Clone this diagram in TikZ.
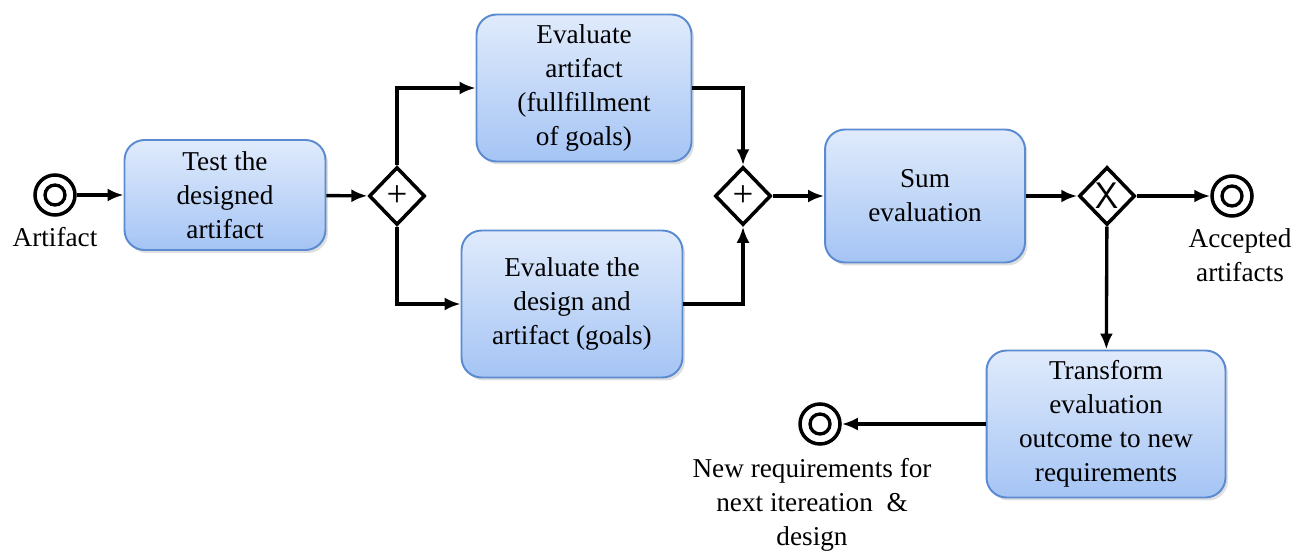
\documentclass[tikz,border=0pt]{standalone}
\usepackage{fontspec}
\setmainfont{LiberationSerif}[Extension=.ttf, UprightFont=*-Regular, BoldFont=*-Bold, ItalicFont=*-Italic]
\usetikzlibrary{arrows.meta,shapes.geometric,shadows}
\definecolor{boxline}{HTML}{5A8AD0}
\definecolor{boxtop}{HTML}{E0EBFC}
\definecolor{boxbot}{HTML}{A5C4F4}

\tikzset{
	task/.style={rounded corners=0.4cm, draw=boxline, line width=1.1pt,
		top color=boxtop, bottom color=boxbot, align=center, inner sep=2pt,
		font=\fontsize{15.5}{19.4}\selectfont,
		drop shadow={opacity=0.25, shadow xshift=0.05cm, shadow yshift=-0.06cm}},
	gate/.style={diamond, draw, line width=2pt, fill=white, aspect=1,
		minimum width=1.12cm, minimum height=1.16cm, inner sep=0pt,
		font=\fontsize{21}{21}\selectfont},
	event/.style={circle, draw, line width=2pt, fill=white, minimum size=0.8cm, inner sep=0pt,
		path picture={\draw[line width=1.9pt] (path picture bounding box.center) circle (0.2cm);}},
	flow/.style={-{Latex[length=0.32cm,width=0.26cm]}, line width=1.9pt},
	lbl/.style={align=center, font=\fontsize{15.5}{19.4}\selectfont}
}

\begin{document}
\begin{tikzpicture}[x=0.02cm,y=-0.02cm]
		\useasboundingbox (0,0) rectangle (1297,554);
		
		% Events
		\node[event] (start) at (55,195) {};
		\node[lbl] (startlbl) at (55,237) {Artifact};
		\node[event] (accepted) at (1232,196) {};
		\node[lbl] (acceptedlbl) at (1240,255) {Accepted\\artifacts};
		\node[event] (newreq) at (820,424) {};
		\node[lbl] (newreqlbl) at (812,505) {New requirements for\\next itereation \ \&\\design};
		
		% Tasks
		\node[task, minimum width=4.02cm, minimum height=2.2cm] (test) at (225,195) {Test the\\designed\\artifact};
		\node[task, minimum width=4.3cm, minimum height=2.94cm] (evalgoal) at (584,88) {Evaluate\\artifact\\(fullfillment\\of goals)};
		\node[task, minimum width=4.42cm, minimum height=2.94cm] (evaldesign) at (572,304) {Evaluate the\\design and\\artifact (goals)};
		\node[task, minimum width=4.0cm, minimum height=2.66cm] (sum) at (925,196) {Sum\\evaluation};
		\node[task, minimum width=4.78cm, minimum height=2.94cm] (transform) at (1106,424) {Transform\\evaluation\\outcome to new\\requirements};
		
		% Gateways
		\node[gate] (split) at (397,196) {+};
		\node[gate] (join) at (743,196) {+};
		\node[gate] (choice) at (1107,196) {\sffamily X};
		
		% Sequence flows
		\draw[flow] (start) -- (test);
		\draw[flow] (test) -- (split);
		\draw[flow] (split.north) |- (evalgoal.west);
		\draw[flow] (split.south) |- (evaldesign.west);
		\draw[flow] (evalgoal.east) -| (join.north);
		\draw[flow] (evaldesign.east) -| (join.south);
		\draw[flow] (join) -- (sum);
		\draw[flow] (sum) -- (choice);
		\draw[flow] (choice) -- (accepted);
		\draw[flow] (choice) -- (transform);
		\draw[flow] (transform) -- (newreq);
\end{tikzpicture}
\end{document}
